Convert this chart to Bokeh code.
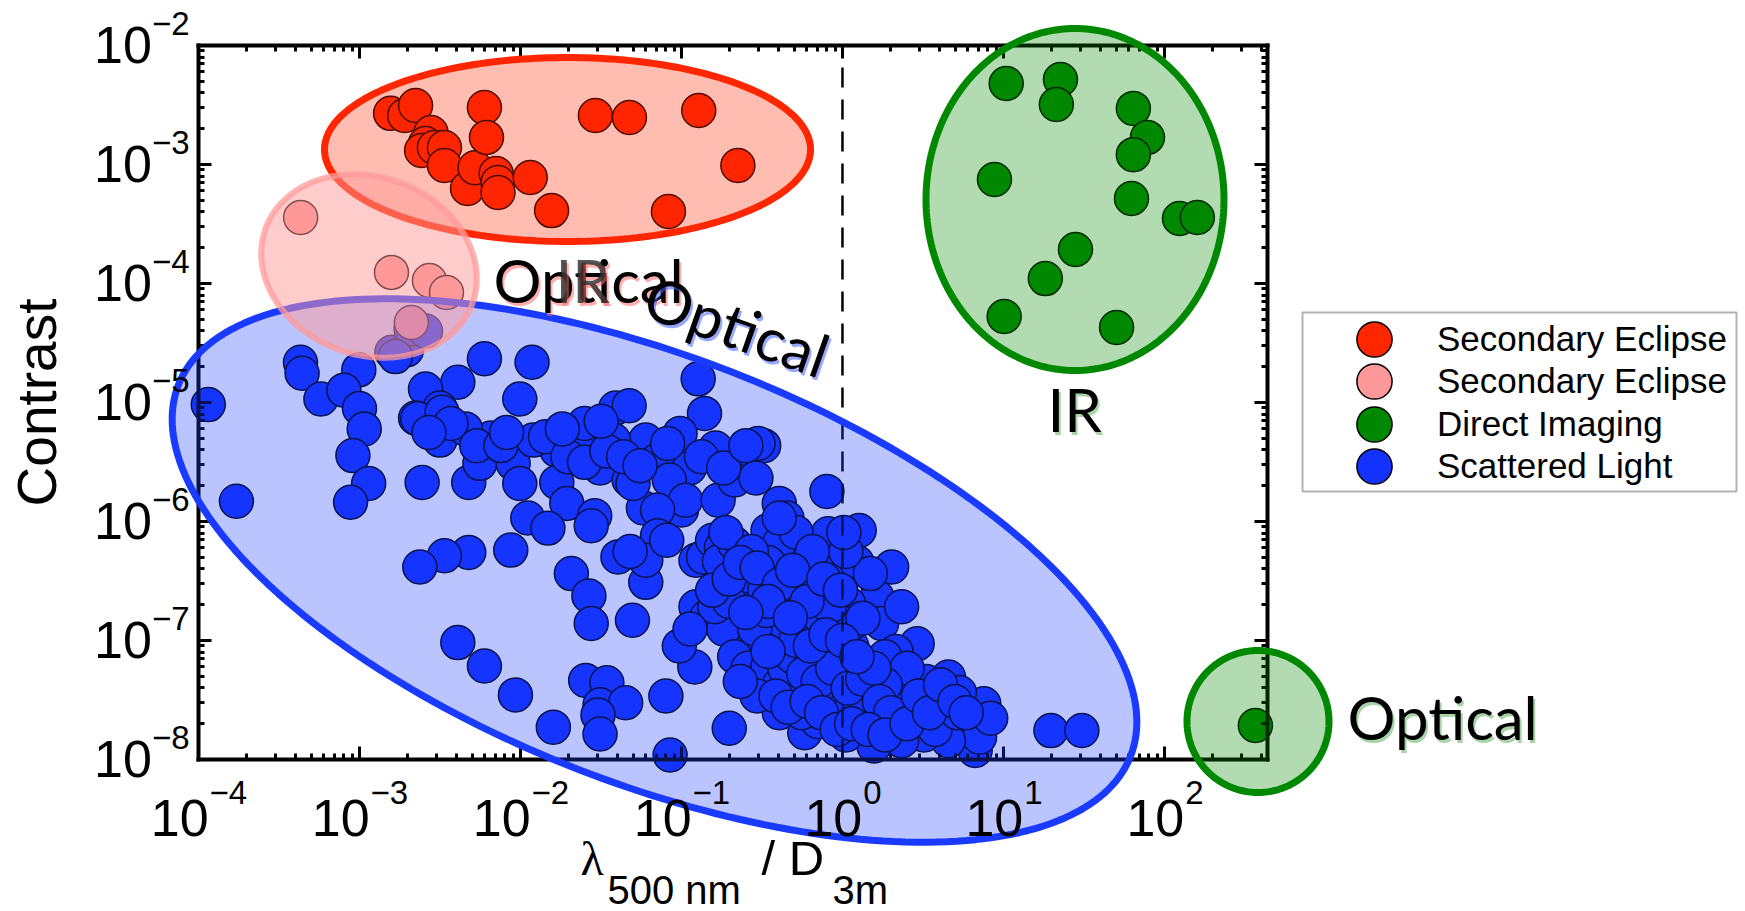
import math
from bokeh.plotting import figure
from bokeh.models import (Range1d, LogAxis, FixedTicker, PolyAnnotation, Label,
                          Legend, LegendItem, CustomJSTickFormatter)
from bokeh.embed import file_html
from bokeh.resources import INLINE

# ---------------- data ----------------
x_tick_values = [1e-4, 1e-3, 1e-2, 1e-1, 1e0, 1e1, 1e2]
y_tick_values = [1e-8, 1e-7, 1e-6, 1e-5, 1e-4, 1e-3, 1e-2]
X_MIN, X_MAX = 1e-4, 436.5
Y_MIN, Y_MAX = 1e-8, 1e-2
DIFFRACTION_LIMIT = 1.0
x_axis_label = ["\u03bb", "500 nm", "/ D", "3m"]
y_axis_label = "Contrast"

series_names = ["Secondary Eclipse", "Secondary Eclipse", "Direct Imaging", "Scattered Light"]

eclipse_ir_lambda = [1.56e-3, 1.91e-3, 2.23e-3, 2.78e-3, 2.57e-3, 2.43e-3, 2.92e-3, 3.37e-3,
                     3.37e-3, 4.69e-3, 5.22e-3, 5.97e-3, 6.15e-3, 7.06e-3, 7.25e-3, 7.25e-3,
                     1.15e-2, 1.56e-2, 2.92e-2, 4.75e-2, 1.28e-1, 2.24e-1, 8.3e-2]
eclipse_ir_contrast = [2.69e-3, 2.58e-3, 3.13e-3, 1.86e-3, 1.50e-3, 1.31e-3, 1.39e-3, 1.39e-3,
                       9.8e-4, 6.28e-4, 9.4e-4, 3.01e-3, 1.69e-3, 8.4e-4, 7.06e-4, 5.82e-4,
                       7.78e-4, 4.1e-4, 2.58e-3, 2.48e-3, 2.84e-3, 9.8e-4, 4.03e-4]

eclipse_opt_lambda = [4.31e-4, 1.58e-3, 2.72e-3, 3.47e-3, 2.10e-3]
eclipse_opt_contrast = [3.59e-4, 1.24e-4, 1.06e-4, 8.4e-5, 4.7e-5]

imaging_lambda = [10.4, 22.6, 21.3, 64.1, 78.4, 64.1, 8.79, 62.4, 124, 160, 28.0, 18.2, 10.1, 50.4, 367]
imaging_contrast = [4.80e-3, 5.18e-3, 3.19e-3, 2.96e-3, 1.69e-3, 1.21e-3, 7.48e-4, 5.18e-4,
                    3.52e-4, 3.59e-4, 1.93e-4, 1.10e-4, 5.28e-5, 4.27e-5, 1.93e-8]

scattered_lambda = [
    1.15e-4, 1.72e-4, 4.3e-4, 4.4e-4, 5.76e-4, 9.9e-4, 8.0e-4, 1.0e-3, 1.07e-3, 9.1e-4, 1.14e-3, 8.8e-4,
    1.59e-3, 1.96e-3, 2.09e-3, 2.57e-3, 5.97e-3, 1.18e-2, 4.08e-3, 9.9e-3, 2.57e-3, 2.23e-3, 3.16e-3,
    2.30e-3, 3.26e-3, 3.16e-3, 4.77e-3, 5.6e-3, 6.57e-3, 9.0e-3, 9.9e-3, 2.45e-3, 1.67e-3, 4.55e-3,
    5.35e-3, 7.57e-3, 3.7e-3, 2.7e-3,
    1.68e-2, 1.68e-2, 1.20e-2, 2.17e-2, 3.03e-2, 3.9e-2, 3.12e-2, 4.73e-2, 5.8e-2, 7.5e-2,
    8.5e-2, 1.0e-1, 1.94e-2, 2.89e-2, 2.75e-2, 1.11e-2, 1.48e-2, 3.9e-2, 4.73e-2, 1.27e-1,
    1.39e-1, 3.24e-1, 9.8e-2, 6.0e-2, 3.78e-2, 7.1e-2, 1.12e-1, 2.14e-1, 1.63e-1, 2.99e-1,
    8.4e-2, 5.0e-2, 1.06e-1, 1.69e-1, 2.14e-1, 2.9e-1, 7.1e-2, 2.31e-2, 1.43e-2, 8.2e-3,
    1.97e-2, 2.5e-2, 3.44e-2, 4.37e-2, 5.53e-2, 8.2e-2, 1.33e-1, 1.83e-1, 2.51e-1, 2.5e-2,
    3.17e-2, 1.82e-2,
    8.7e-3, 4.77e-3, 3.37e-3, 2.37e-3, 4.08e-3, 5.97e-3, 9.3e-3, 1.60e-2, 2.54e-2, 3.44e-2,
    3.12e-2, 4.5e-2, 3.03e-2, 3.12e-2, 8.0e-2, 8.5e-2, 1.21e-1, 4.03e-2, 6.0e-2, 2.07e-2,
    2.66e-2, 2.75e-2, 4.96e-2, 7.1e-2, 1.23e-1, 1.23e-1, 6.0e-2, 8.1e-2, 1.37e-1, 1.44e-1,
    1.74e-1, 4.8e-2, 1.98e-1, 5.83e-1,
    8.0e-1, 2.02, 1.27, 1.64, 4.05e-1, 4.52e-1, 5.4e-1, 7.65e-1, 8.15e-1, 4.52e-1,
    2.9e-1, 2.43e-1, 19.7, 30.7, 7.55, 6.67, 4.55, 2.91,
    1.56e-1, 1.77e-1, 1.98e-1, 1.72e-1, 2.14e-1, 1.89e-1, 3.45e-1, 4.05e-1, 5.15e-1, 2.25e-1,
    2.72e-1, 3.29e-1, 3.86e-1, 4.25e-1, 5.22e-1, 5.75e-1, 7.06e-1, 9.27e-1, 1.09, 1.23,
    1.49, 1.75,
    1.83e-1, 2.14e-1, 2.59e-1, 3.45e-1, 4.39e-1, 5.15e-1, 6.3e-1, 7.65e-1, 9.27e-1, 1.14,
    1.40, 3.45e-1, 4.39e-1, 5.57e-1, 7.06e-1, 8.99e-1, 1.14,
    4.05e-1, 4.9e-1, 6.13e-1, 7.65e-1, 9.7e-1, 1.20, 1.45, 8.3e-1, 1.05, 1.29,
    1.64, 1.99, 2.41, 2.82, 3.31, 3.88, 4.55, 5.33, 6.06, 7.1,
    4.55, 3.21, 2.33, 1.70,
    7.06e-1, 5.57e-1, 4.05e-1, 2.95e-1, 2.32e-1, 1.57, 1.05, 2.15, 1.84, 2.52,
    2.85e-1, 3.35e-1, 7.9e-1, 1.02, 6.85e-1, 5.3e-1, 9.0e-1, 1.23, 1.84, 3.76,
    5.16, 8.33,
    3.45e-1, 2.72e-1, 1.05, 6.5e-1, 8.3e-1, 1.34, 2.33, 1.61e-1, 1.98e-1, 1.56e-1,
    1.98e-1, 1.02, 4.05e-1, 9.7e-2, 1.13e-1,
    4.39e-1, 4.9e-1, 5.75e-1, 7.07e-1, 8.7e-1, 1.086, 1.336, 1.566, 1.696, 1.99,
    5.14e-1, 6.32e-1, 7.9e-1, 1.0, 1.23, 3.45e-1, 3.86e-1, 4.6e-1, 6.03e-1, 7.41e-1,
    9.27e-1, 1.14, 1.446, 1.84, 2.52, 2.96, 3.47, 4.07, 5.0, 5.87,
    2.32e-1, 2.95e-1, 4.05e-1, 4.9e-1, 6.03e-1, 7.65e-1, 9.72e-1, 3.45e-1, 2.51e-1, 4.75e-1,
]
scattered_contrast = [
    9.6e-6, 1.48e-6, 2.18e-5, 1.76e-5, 1.07e-5, 1.88e-5, 1.27e-5, 8.9e-6, 6.0e-6, 3.58e-6, 2.09e-6, 1.45e-6,
    2.65e-5, 2.77e-5, 4.17e-5, 3.99e-5, 2.33e-5, 2.18e-5, 1.48e-5, 1.07e-5, 1.30e-5, 7.4e-6, 9.0e-6,
    7.3e-6, 8.3e-6, 4.83e-6, 2.13e-6, 3.08e-6, 5.04e-6, 3.08e-6, 2.09e-6, 2.13e-6, 2.43e-5, 6.0e-6,
    4.34e-6, 4.34e-6, 6.67e-6, 5.6e-6,
    3.98e-6, 2.13e-6, 4.83e-6, 4.53e-6, 5.04e-6, 4.53e-6, 2.82e-6, 2.23e-6, 1.30e-6, 3.98e-6,
    2.23e-6, 1.25e-6, 1.42e-6, 1.12e-6, 9.2e-7, 1.07e-6, 8.8e-7, 9.0e-6, 9.4e-6, 1.58e-5,
    8.1e-6, 4.34e-6, 5.5e-6, 4.83e-6, 4.83e-6, 3.28e-6, 2.82e-6, 3.42e-6, 4.15e-6, 4.53e-6,
    2.23e-6, 2.09e-6, 1.51e-6, 1.51e-6, 2.23e-6, 2.32e-6, 1.25e-6, 5.38e-6, 5.16e-6, 5.6e-6,
    3.5e-6, 3.14e-6, 3.9e-6, 3.5e-6, 2.94e-6, 4.53e-6, 3.5e-6, 2.82e-6, 4.34e-6, 6.67e-6,
    6.96e-6, 6.0e-6,
    5.75e-7, 5.5e-7, 5.16e-7, 4.15e-7, 9.6e-8, 6.1e-8, 3.49e-8, 1.87e-8, 4.62e-8, 4.42e-8,
    2.88e-8, 3.0e-8, 2.37e-8, 1.64e-8, 3.42e-8, 1.09e-8, 5.98e-8, 5.04e-7, 3.08e-7, 3.65e-7,
    2.37e-7, 1.39e-7, 1.48e-7, 7.6e-7, 1.92e-7, 4.73e-7, 4.73e-7, 6.96e-7, 5.04e-7, 1.58e-7,
    6.1e-7, 5.6e-7, 1.83e-8, 1.68e-8,
    1.79e-6, 4.15e-7, 8.4e-7, 2.32e-7, 1.42e-6, 1.07e-6, 6.96e-7, 4.73e-7, 7.9e-7, 2.18e-7,
    2.04e-7, 8.8e-8, 1.75e-8, 1.75e-8, 2.94e-8, 1.19e-8, 4.93e-8, 9.4e-8,
    6.96e-7, 6.0e-7, 5.27e-7, 4.63e-7, 6.5e-7, 8.1e-7, 8.4e-7, 6.5e-7, 8.1e-7, 2.94e-7,
    3.42e-7, 2.64e-7, 3.73e-7, 2.04e-7, 2.88e-7, 1.79e-7, 2.53e-7, 3.21e-7, 2.04e-7, 4.53e-7,
    3.65e-7, 1.39e-7,
    1.25e-7, 7.3e-8, 5.85e-8, 6.1e-8, 8.1e-8, 5.85e-8, 7.3e-8, 1.0e-7, 7.3e-8, 9.0e-8,
    6.5e-8, 1.12e-7, 1.39e-7, 1.12e-7, 1.39e-7, 1.25e-7, 1.39e-7,
    4.24e-8, 3.42e-8, 4.24e-8, 5.26e-8, 4.52e-8, 5.26e-8, 3.8e-8, 3.07e-8, 2.76e-8, 2.22e-8,
    2.76e-8, 5.85e-8, 3.8e-8, 2.47e-8, 4.52e-8, 3.07e-8, 2.22e-8, 3.65e-8, 1.99e-8, 1.54e-8,
    1.44e-8, 1.61e-8, 1.44e-8, 1.79e-8,
    2.08e-8, 2.47e-8, 2.47e-8, 3.42e-8, 4.52e-8, 1.30e-8, 1.61e-8, 8.1e-8, 7.3e-8, 5.85e-8,
    1.25e-7, 1.79e-7, 7.6e-8, 6.1e-8, 6.1e-8, 4.52e-8, 2.22e-8, 3.42e-8, 4.24e-8, 1.79e-8,
    2.47e-8, 2.22e-8,
    4.53e-7, 5.6e-7, 5.6e-7, 5.6e-7, 1.92e-7, 1.54e-7, 1.92e-7, 1.92e-7, 2.13e-7, 2.64e-7,
    3.28e-7, 8.1e-7, 1.07e-6, 9.0e-8, 1.25e-7,
    5.85e-8, 7.3e-8, 5.26e-8, 4.52e-8, 5.85e-8, 3.97e-8, 4.72e-8, 5.85e-8, 3.07e-8, 2.47e-8,
    1.0e-7, 9.0e-8, 1.12e-7, 1.0e-7, 7.3e-8, 8.1e-8, 3.42e-8, 2.75e-8, 3.07e-8, 2.47e-8,
    1.79e-8, 2.0e-8, 1.79e-8, 1.61e-8, 2.0e-8, 3.42e-8, 2.47e-8, 4.24e-8, 3.07e-8, 2.47e-8,
    4.53e-7, 4.07e-7, 2.94e-7, 3.9e-7, 2.13e-7, 3.28e-7, 2.65e-7, 2.13e-7, 1.72e-7, 1.55e-7,
]

# ---------------- geometry ----------------
W, H = 1745, 911
# pixel box of the axes inside the canvas
PLOT_L, PLOT_R, PLOT_T, PLOT_B = 198, 1267, 45, 759
LX0, LX1 = math.log10(X_MIN), math.log10(X_MAX)
LY0, LY1 = math.log10(Y_MIN), math.log10(Y_MAX)
KX = (LX1 - LX0) / (PLOT_R - PLOT_L)   # decades per pixel
KY = (LY1 - LY0) / (PLOT_B - PLOT_T)
# the frame fills the whole canvas so that nothing drawn outside the axes box is clipped
FRAME_X0 = 10 ** (LX0 - PLOT_L * KX)
FRAME_X1 = 10 ** (LX1 + (W - PLOT_R) * KX)
FRAME_Y0 = 10 ** (LY0 - (H - PLOT_B) * KY)
FRAME_Y1 = 10 ** (LY1 + PLOT_T * KY)

FONT = "Liberation Sans"
ANNOT_FONT = "Lato"
BASELINE_FIX = 0.4     # compensates label anchoring (fraction of font size)

RED, PINK, GREEN, BLUE = "#FF2600", "#FF9999", "#008800", "#1432FF"

p = figure(width=W, height=H, x_axis_type="log", y_axis_type="log",
           x_range=Range1d(FRAME_X0, FRAME_X1), y_range=Range1d(FRAME_Y0, FRAME_Y1),
           output_backend="svg", toolbar_location=None,
           min_border_left=0, min_border_right=0, min_border_top=0, min_border_bottom=0)
p.grid.visible = False
p.outline_line_color = None
p.background_fill_color = "white"
p.border_fill_color = "white"


def minor_list(majors, upper):
    out = []
    for t in majors:
        for m in range(2, 10):
            if m * t < upper:
                out.append(m * t)
    return out


x_ticker = FixedTicker(ticks=x_tick_values, minor_ticks=minor_list(x_tick_values, X_MAX))
y_ticker = FixedTicker(ticks=y_tick_values, minor_ticks=minor_list(y_tick_values, Y_MAX))


def style_axis(ax, ticker, bounds, loc):
    ax.ticker = ticker
    ax.bounds = bounds
    ax.fixed_location = loc
    ax.formatter = CustomJSTickFormatter(code="return ''")
    ax.major_label_text_font_size = "1px"
    ax.axis_line_width = 4
    ax.axis_line_color = "black"
    ax.axis_line_cap = "square"
    ax.major_tick_in = 13
    ax.major_tick_out = 0
    ax.minor_tick_in = 6
    ax.minor_tick_out = 0
    ax.major_tick_line_width = 3
    ax.minor_tick_line_width = 3


style_axis(p.xaxis[0], x_ticker, (X_MIN, X_MAX), Y_MIN)
style_axis(p.yaxis[0], y_ticker, (Y_MIN, Y_MAX), X_MIN)
top_axis = LogAxis()
style_axis(top_axis, x_ticker, (X_MIN, X_MAX), Y_MAX)
right_axis = LogAxis()
style_axis(right_axis, y_ticker, (Y_MIN, Y_MAX), X_MAX)
p.add_layout(top_axis, "above")
p.add_layout(right_axis, "right")

# ---------------- points ----------------
r_blue = p.scatter(scattered_lambda, scattered_contrast, size=34, fill_color=BLUE,
                   line_color="black", line_width=1.5)
r_green = p.scatter(imaging_lambda, imaging_contrast, size=34, fill_color=GREEN,
                    line_color="black", line_width=1.5)
r_red = p.scatter(eclipse_ir_lambda, eclipse_ir_contrast, size=34, fill_color=RED,
                  line_color="black", line_width=1.5)
r_pink = p.scatter(eclipse_opt_lambda, eclipse_opt_contrast, size=34, fill_color=PINK,
                   line_color="black", line_width=1.5)

# diffraction limit (lambda/D = 1)
p.segment(x0=[DIFFRACTION_LIMIT], y0=[Y_MIN], x1=[DIFFRACTION_LIMIT], y1=[Y_MAX],
          line_color="black", line_width=2.5, line_dash="20 12")


# ---------------- region ellipses (screen-shaped, mapped through the scales) ----------------
def px_to_data(X, Y):
    return 10 ** (LX0 + (X - PLOT_L) * KX), 10 ** (LY0 + (PLOT_B - Y) * KY)


def ellipse(cx, cy, a, b, deg, n=240):
    phi = math.radians(deg)
    xs, ys = [], []
    for i in range(n):
        t = 2 * math.pi * i / n
        X = cx + a * math.cos(t) * math.cos(phi) - b * math.sin(t) * math.sin(phi)
        Y = cy + a * math.cos(t) * math.sin(phi) + b * math.sin(t) * math.cos(phi)
        x, y = px_to_data(X, Y)
        xs.append(x)
        ys.append(y)
    return xs, ys


def add_ellipse(cx, cy, a, b, deg, color, fill_alpha, line_alpha=1.0, lw=7):
    xs, ys = ellipse(cx, cy, a, b, deg)
    p.add_layout(PolyAnnotation(xs=xs, ys=ys, fill_color=color, fill_alpha=fill_alpha,
                                line_color=color, line_alpha=line_alpha, line_width=lw))


add_ellipse(654, 570, 511, 213, 21.3, "#1A3AFF", 0.3)
add_ellipse(567, 149, 243, 92, 0, RED, 0.3)
add_ellipse(1074.5, 199, 149, 171, 0, GREEN, 0.3)
add_ellipse(1257.5, 721, 71, 71, 0, GREEN, 0.3)
add_ellipse(368.5, 265.5, 110, 89, 20, PINK, 0.5, line_alpha=0.75, lw=6)


# ---------------- text ----------------
def fs_px(size):
    return float(size.replace("px", ""))


def add_label(text, X, Y, size, color="black", font=ANNOT_FONT, angle=0.0, alpha=1.0,
              shadow=None, align="left"):
    """X, Y: canvas pixel position of the text baseline start."""
    fix = BASELINE_FIX * fs_px(size)
    dx, dy = -fix * math.sin(angle), fix * math.cos(angle)
    if shadow is not None:
        p.add_layout(Label(x=X + 2 + dx, y=H - Y - 3 + dy, x_units="screen", y_units="screen",
                           text=text, text_font=font, text_font_size=size, text_color=shadow,
                           text_alpha=0.55, angle=angle, text_baseline="alphabetic",
                           text_align=align))
    p.add_layout(Label(x=X + dx, y=H - Y + dy, x_units="screen", y_units="screen",
                       text=text, text_font=font, text_font_size=size, text_color=color,
                       text_alpha=alpha, angle=angle, text_baseline="alphabetic",
                       text_align=align))


# tick labels: "10" with a raised exponent, anchored at tick values
FS_B, FS_E = 52, 33
W_BASE = 2 * 0.556 * FS_B


def exp_text(v):
    e = int(round(math.log10(v)))
    return ("\u2212" + str(-e)) if e < 0 else str(e)


def exp_width(t):
    return sum(0.584 if c == "\u2212" else 0.556 for c in t) * FS_E


for v in x_tick_values:
    et = exp_text(v)
    left = -(W_BASE + exp_width(et)) / 2
    p.add_layout(Label(x=v, y=H - 838 + BASELINE_FIX * FS_B, x_units="data", y_units="screen",
                       x_offset=left, text="10", text_font=FONT, text_font_size=f"{FS_B}px",
                       text_color="black", text_baseline="alphabetic", text_align="left"))
    p.add_layout(Label(x=v, y=H - 805 + BASELINE_FIX * FS_E, x_units="data", y_units="screen",
                       x_offset=left + W_BASE + 1, text=et, text_font=FONT,
                       text_font_size=f"{FS_E}px", text_color="black",
                       text_baseline="alphabetic", text_align="left"))

Y_LABEL_RIGHT = 189
for v in y_tick_values:
    et = exp_text(v)
    p.add_layout(Label(x=Y_LABEL_RIGHT - exp_width(et), y=v, x_units="screen", y_units="data",
                       y_offset=-20 + BASELINE_FIX * FS_B, text="10", text_font=FONT,
                       text_font_size=f"{FS_B}px", text_color="black",
                       text_baseline="alphabetic", text_align="right"))
    p.add_layout(Label(x=Y_LABEL_RIGHT, y=v, x_units="screen", y_units="data",
                       y_offset=9 + BASELINE_FIX * FS_E, text=et, text_font=FONT,
                       text_font_size=f"{FS_E}px", text_color="black",
                       text_baseline="alphabetic", text_align="right"))

# axis titles
add_label(y_axis_label, 58, 402, "55px", font=FONT, angle=math.pi / 2, align="center")
add_label(x_axis_label[0], 580, 877, "48px", font="Liberation Serif")
add_label(x_axis_label[1], 607, 905, "40px", font=FONT)
add_label(x_axis_label[2], 761, 877, "49px", font=FONT)
add_label(x_axis_label[3], 832, 905, "40px", font=FONT)

# region annotations
add_label("Optical", 493, 303, "60px", shadow="#FF6A6A")
add_label("IR", 555, 303, "60px", color="#2A2A2A", alpha=0.8, shadow="#FF6A6A")
add_label("Optical", 639, 316, "60px", angle=-0.34, shadow="#4060FF")
add_label("IR", 1047, 432, "60px", shadow="#60B060")
add_label("Optical", 1347, 740, "60px", shadow="#60B060")

# ---------------- legend ----------------
LEG_L, LEG_T, LEG_R, LEG_B = 1302, 312, 1736, 491
bx, by = [], []
for X, Y in [(LEG_L, LEG_T), (LEG_R, LEG_T), (LEG_R, LEG_B), (LEG_L, LEG_B)]:
    dx_, dy_ = px_to_data(X, Y)
    bx.append(dx_)
    by.append(dy_)
p.add_layout(PolyAnnotation(xs=bx, ys=by, fill_color="white", fill_alpha=1.0,
                            line_color="black", line_width=2))

GLYPH = 88
ROW_STEP = 42.3
MARK_CX, TEXT_X, FIRST_CY = 1374, 1437, 339
leg_left = MARK_CX - GLYPH // 2
legend_rows = [(series_names[0], r_red), (series_names[1], r_pink),
               (series_names[2], r_green), (series_names[3], r_blue)]
for i, (name, rend) in enumerate(legend_rows):
    cy = FIRST_CY + i * ROW_STEP
    p.add_layout(Legend(items=[LegendItem(label=name, renderers=[rend])],
                        location=(leg_left, H - (cy + GLYPH / 2)),
                        orientation="vertical",
                        glyph_width=GLYPH, glyph_height=GLYPH, spacing=0, padding=0,
                        label_standoff=TEXT_X - (leg_left + GLYPH), margin=0,
                        label_text_font=FONT, label_text_font_size="35px",
                        label_text_color="black",
                        border_line_color=None, background_fill_alpha=0.0))

open("out.html", "w").write(file_html(p, INLINE))
